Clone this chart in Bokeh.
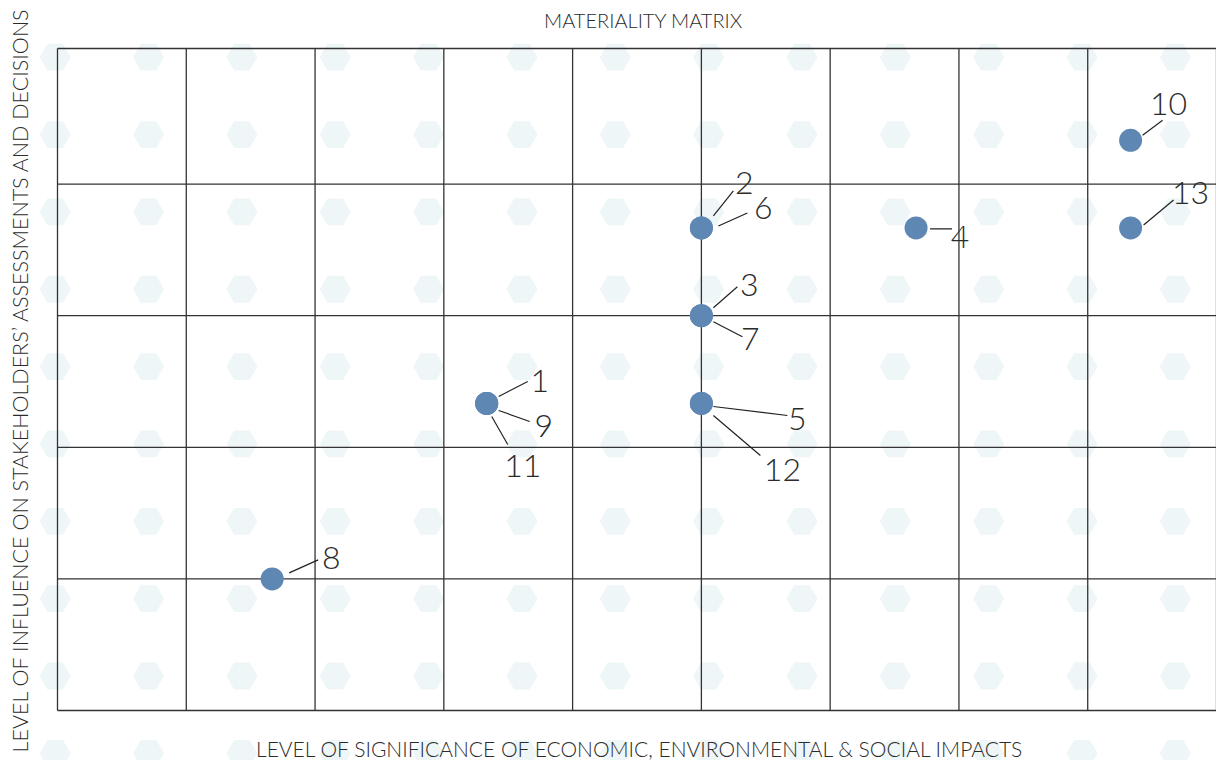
import numpy as np
from bokeh.plotting import figure
from bokeh.models import Range1d
from bokeh.core.properties import value
from bokeh.embed import file_html
from bokeh.resources import INLINE

# ---------------- data ----------------
issue_ids = ["1", "2", "3", "4", "5", "6", "7", "8", "9", "10", "11", "12", "13"]
significance = [3.333, 5.0, 5.0, 6.667, 5.0, 5.0, 5.0, 1.667, 3.333, 8.333, 3.333, 5.0, 8.333]
influence = [2.333, 3.667, 3.0, 3.667, 2.333, 3.667, 3.0, 1.0, 2.333, 4.333, 2.333, 2.333, 3.667]

x_cells = [0, 1, 2, 3, 4, 5, 6, 7, 8, 9]
y_cells = [0, 1, 2, 3, 4, 5]

chart_title = "MATERIALITY MATRIX"
x_title = "LEVEL OF SIGNIFICANCE OF ECONOMIC, ENVIRONMENTAL & SOCIAL IMPACTS"
y_title = "LEVEL OF INFLUENCE ON STAKEHOLDERS\u2019 ASSESSMENTS AND DECISIONS"

# ---------------- layout (pixels) ----------------
W, H = 1216, 760
LEFT, RIGHT, TOP, BOTTOM = 57, 1216, 48, 710
PX_X = (RIGHT - LEFT) / (x_cells[-1] - x_cells[0])
PX_Y = 131.6  # px per row (top row slightly taller in the reference)

# label placement relative to each point (screen px, y down)
lead_start = [(12, -7), (12, -12), (12, -8), (14, 1), (12, 3), (17, -2), (12, 6),
              (17, -6), (12, 7), (12, -5), (5, 13), (12, 12), (13, -3)]
lead_end = [(41, -22), (32, -37), (36, -29), (36, 1), (86, 12), (46, -15), (41, 21),
            (46, -19), (43, 18), (32, -20), (21, 41), (59, 52), (43, -28)]
text_off = [(53, -22), (43, -45), (48, -31), (44, 9), (96, 16), (62, -20), (49, 23),
            (59, -21), (57, 23), (38, -36), (36, 63), (81, 67), (60, -35)]

def px_x(px):
    return (px - LEFT) / PX_X

def px_y(py):
    return (BOTTOM - py) / PX_Y

FONT = "Lato Light, Lato, Liberation Sans, sans-serif"
TEXT_COLOR = "#2b2b2b"
LINE_COLOR = "#333333"

p = figure(width=W, height=H, output_backend="svg", toolbar_location=None,
           x_range=Range1d(px_x(0), px_x(W)), y_range=Range1d(px_y(H), px_y(0)),
           x_axis_location=None, y_axis_location=None, min_border=0)
p.grid.visible = False
p.outline_line_color = None
p.background_fill_color = "white"
p.border_fill_color = "white"

# decorative hexagon background pattern
hx = [px_x(54.7 + 93.35 * i) for i in range(14)]
hy = [px_y(56.7 + 77.35 * j) for j in range(10)]
HX, HY = np.meshgrid(hx, hy)
p.scatter(HX.ravel(), HY.ravel(), marker="hex", size=31, fill_color="#eef6f7",
          line_color=None)

# grid cells
y_top = px_y(TOP)
p.segment(x0=[x_cells[0]] * len(y_cells), y0=y_cells[:-1] + [y_top],
          x1=[x_cells[-1]] * len(y_cells), y1=y_cells[:-1] + [y_top],
          line_color=LINE_COLOR, line_width=1.3)
p.segment(x0=x_cells, y0=[y_cells[0]] * len(x_cells),
          x1=x_cells, y1=[y_top] * len(x_cells),
          line_color=LINE_COLOR, line_width=1.3)

# leader lines
lx0 = [x + s[0] / PX_X for x, s in zip(significance, lead_start)]
ly0 = [y - s[1] / PX_Y for y, s in zip(influence, lead_start)]
lx1 = [x + e[0] / PX_X for x, e in zip(significance, lead_end)]
ly1 = [y - e[1] / PX_Y for y, e in zip(influence, lead_end)]
p.segment(lx0, ly0, lx1, ly1, line_color="#222222", line_width=1.2)

# points
p.scatter(significance, influence, size=23, fill_color="#5f87b4", line_color=None)

# point labels
p.text(significance, influence, text=issue_ids,
       x_offset=[t[0] for t in text_off], y_offset=[t[1] for t in text_off],
       text_align="center", text_baseline="middle", text_font=value(FONT),
       text_font_size="32px", text_color=TEXT_COLOR)

# titles
p.text([px_x(643)], [px_y(19)], text=[chart_title], text_align="center",
       text_baseline="middle", text_font=value(FONT), text_font_size="20px",
       text_color=TEXT_COLOR)
p.text([px_x(640)], [px_y(748)], text=[x_title], text_align="center",
       text_baseline="middle", text_font=value(FONT), text_font_size="21px",
       text_color=TEXT_COLOR)
p.text([px_x(19)], [px_y(379)], text=[y_title], text_align="center",
       text_baseline="middle", angle=np.pi / 2, text_font=value(FONT),
       text_font_size="21.5px", text_color=TEXT_COLOR)

open("out.html", "w").write(file_html(p, INLINE))
